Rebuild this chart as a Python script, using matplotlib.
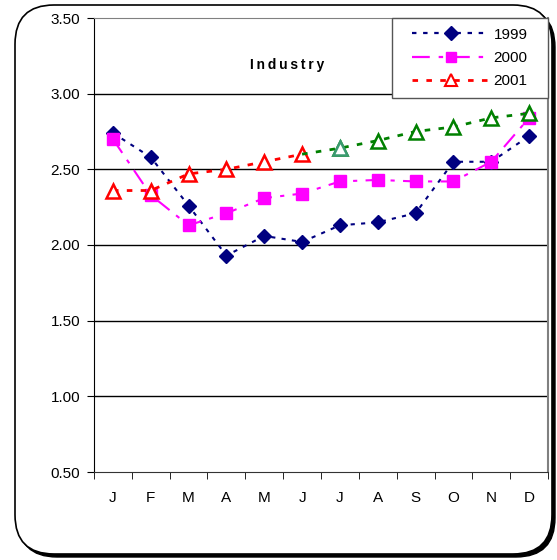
import matplotlib.pyplot as plt
from matplotlib.patches import FancyBboxPatch, Rectangle
from matplotlib.lines import Line2D

plt.rcParams['font.family'] = ['Liberation Sans', 'DejaVu Sans']

# data
months = ['J', 'F', 'M', 'A', 'M', 'J', 'J', 'A', 'S', 'O', 'N', 'D']
y1999 = [2.74, 2.58, 2.26, 1.93, 2.06, 2.02, 2.13, 2.15, 2.21, 2.55, 2.55, 2.72]
y2000 = [2.70, 2.33, 2.13, 2.21, 2.31, 2.34, 2.42, 2.43, 2.42, 2.42, 2.55, 2.84]
y2001 = [2.36, 2.36, 2.47, 2.50, 2.55, 2.60, 2.64, 2.69, 2.75, 2.78, 2.84, 2.87]
n_actual = 6  # 2001 values drawn in red, the rest in green
yticks = [0.5, 1.0, 1.5, 2.0, 2.5, 3.0, 3.5]

fig = plt.figure(figsize=(5.57, 5.60), dpi=100)

# rounded frame with shadow
shadow = FancyBboxPatch((18 / 557, 3 / 560), 537 / 557, 549 / 560,
                        boxstyle="round,pad=0,rounding_size=0.07",
                        transform=fig.transFigure, fc='black', ec='black', zorder=-2)
frame = FancyBboxPatch((15 / 557, 6 / 560), 537 / 557, 549 / 560,
                       boxstyle="round,pad=0,rounding_size=0.07",
                       transform=fig.transFigure, fc='white', ec='black', lw=1.2, zorder=-1)
fig.patches.extend([shadow, frame])

ax = fig.add_axes([94 / 557, 88 / 560, 454 / 557, 454 / 560])
ax.set_facecolor('none')
x = list(range(len(months)))

ax.plot(x, y1999, color='#000080', ls=(0, (2, 3)), lw=1.5, marker='D', ms=7,
        mfc='#000080', mec='#000080', label='1999', zorder=3)
ax.plot(x, y2000, color='#ff00ff', ls=(0, (8, 4, 2, 4)), lw=1.5, marker='s', ms=8,
        mfc='#ff00ff', mec='#ff00ff', label='2000', zorder=4)
ax.plot(x[:n_actual], y2001[:n_actual], color='red', ls=(0, (2, 3)), lw=2,
        marker='^', ms=10, mfc='white', mec='red', mew=1.8, label='2001', zorder=5)
ax.plot(x[n_actual - 1:], y2001[n_actual - 1:], color='#008000', ls=(0, (2, 3)), lw=2,
        marker='^', ms=10, mfc='white', mec='#008000', mew=1.8,
        markevery=list(range(1, len(months) - n_actual + 1)), zorder=5)
ax.plot(x[n_actual], y2001[n_actual], ls='none', marker='^', ms=10, mfc='white',
        mec='#3a9a70', mew=1.8, zorder=6)

ax.set_xlim(-0.5, 11.5)
ax.set_ylim(0.5, 3.5)
ax.set_yticks(yticks)
ax.set_yticklabels(['%.2f' % v for v in yticks], fontsize=11)
ax.set_xticks(x)
ax.set_xticklabels(months, fontsize=11)
ax.set_xticks([i - 0.5 for i in range(13)], minor=True)
ax.tick_params(axis='x', which='major', length=0, pad=14)
ax.tick_params(axis='x', which='minor', length=5, direction='out')
ax.tick_params(axis='y', length=5, direction='out', pad=5)

for v in yticks[1:-1]:
    ax.axhline(v, color='black', lw=1, zorder=1)

ax.spines['top'].set_color('#808080')
ax.spines['right'].set_color('#808080')
ax.spines['right'].set_linewidth(1.5)
ax.spines['left'].set_color('black')
ax.spines['bottom'].set_color('#333333')

ax.text(0.425, 0.896, '\u2009'.join('Industry'), transform=ax.transAxes, ha='center',
        va='center', fontsize=10, fontweight='bold')

# legend box drawn separately so the padding matches
ax.add_patch(Rectangle((0.656, 0.824), 0.344, 0.176, transform=ax.transAxes,
                       fc='white', ec='#555555', lw=1, zorder=7, clip_on=False))
handles = [
    Line2D([], [], color='#000080', ls=(0, (2, 3)), lw=1.6, marker='D', ms=7,
           mfc='#000080', mec='#000080'),
    Line2D([], [], color='#ff00ff', ls=(0, (8, 4, 2, 4)), lw=1.6, marker='s', ms=7,
           mfc='#ff00ff', mec='#ff00ff'),
    Line2D([], [], color='red', ls=(0, (2, 3)), lw=2, marker='^', ms=8,
           mfc='white', mec='red', mew=1.5),
]
leg = ax.legend(handles, ['1999', '2000', '2001'], loc='center',
                bbox_to_anchor=(0.828, 0.912), fontsize=11, frameon=False,
                handlelength=5.0, labelspacing=0.6, handletextpad=0.3, borderpad=0)
leg.set_zorder(8)

fig.savefig('out.png', dpi=100)
